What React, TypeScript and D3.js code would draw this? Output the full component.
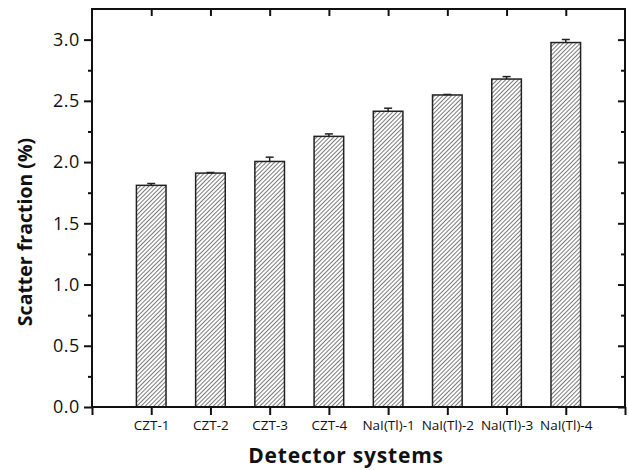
import { useEffect, useRef } from 'react'
import * as d3 from 'd3'

const categories = ['CZT-1', 'CZT-2', 'CZT-3', 'CZT-4', 'NaI(Tl)-1', 'NaI(Tl)-2', 'NaI(Tl)-3', 'NaI(Tl)-4']
const scatterFraction = [1.81, 1.91, 2.005, 2.21, 2.415, 2.548, 2.678, 2.976]
const errors = [0.015, 0.005, 0.035, 0.02, 0.025, 0.004, 0.02, 0.025]
const yTicks = [0, 0.5, 1.0, 1.5, 2.0, 2.5, 3.0]

export default function App() {
  const svgRef = useRef<SVGSVGElement>(null)
  const width = 629
  const height = 470

  useEffect(() => {
    if (!svgRef.current) return
    const svg = d3.select(svgRef.current)
    svg.selectAll('*').remove()

    const margin = { top: 9, right: 4, bottom: 63, left: 92 }
    const innerW = width - margin.left - margin.right
    const innerH = height - margin.top - margin.bottom
    const font = '"Open Sans", "Noto Sans", sans-serif'

    const x = d3.scaleLinear().domain([0, categories.length + 1]).range([0, innerW])
    const y = d3.scaleLinear().domain([0, 3.25]).range([innerH, 0])
    const step = x(1) - x(0)
    const barW = step * 0.5

    const defs = svg.append('defs')
    const pat = defs.append('pattern')
      .attr('id', 'hatch')
      .attr('patternUnits', 'userSpaceOnUse')
      .attr('width', 3)
      .attr('height', 3)
      .attr('patternTransform', 'rotate(45)')
    pat.append('rect').attr('width', 3).attr('height', 3).attr('fill', '#fff')
    pat.append('line')
      .attr('x1', 0).attr('y1', 0).attr('x2', 0).attr('y2', 3)
      .attr('stroke', '#333').attr('stroke-width', 1.3)

    const g = svg.append('g').attr('transform', `translate(${margin.left},${margin.top})`)

    // bars
    g.selectAll('rect.bar')
      .data(scatterFraction)
      .enter()
      .append('rect')
      .attr('class', 'bar')
      .attr('x', (_, i) => x(i + 1) - barW / 2)
      .attr('y', d => y(d))
      .attr('width', barW)
      .attr('height', d => innerH - y(d))
      .attr('fill', 'url(#hatch)')
      .attr('stroke', '#222')
      .attr('stroke-width', 1.5)

    // error bars (upper half only)
    const eg = g.selectAll('g.err').data(scatterFraction).enter().append('g')
    eg.append('line')
      .attr('x1', (_, i) => x(i + 1)).attr('x2', (_, i) => x(i + 1))
      .attr('y1', d => y(d)).attr('y2', (d, i) => y(d + errors[i]))
      .attr('stroke', '#222').attr('stroke-width', 1.5)
    eg.append('line')
      .attr('x1', (_, i) => x(i + 1) - 4).attr('x2', (_, i) => x(i + 1) + 4)
      .attr('y1', (d, i) => y(d + errors[i])).attr('y2', (d, i) => y(d + errors[i]))
      .attr('stroke', '#222').attr('stroke-width', 1.5)

    const minorTicks = d3.range(0.25, 3.25, 0.5)
    const catTicks = d3.range(1, categories.length + 1)

    // left axis
    const left = g.append('g')
      .call(d3.axisLeft(y).tickValues(yTicks).tickFormat(d3.format('.1f')).tickSize(8).tickPadding(4))
    left.select('.domain').remove()
    left.selectAll('line').attr('stroke', '#111').attr('stroke-width', 2)
    left.selectAll('text').attr('font-size', 18).attr('letter-spacing', 0.6).attr('font-family', font).attr('fill', '#111')
    g.append('g')
      .call(d3.axisLeft(y).tickValues(minorTicks).tickFormat(() => '').tickSize(4))
      .call(a => a.select('.domain').remove())
      .selectAll('line').attr('stroke', '#111').attr('stroke-width', 2)

    // right axis (inward ticks)
    g.append('g')
      .attr('transform', `translate(${innerW},0)`)
      .call(d3.axisLeft(y).tickValues(yTicks).tickFormat(() => '').tickSize(7))
      .call(a => a.select('.domain').remove())
      .selectAll('line').attr('stroke', '#111').attr('stroke-width', 2)
    g.append('g')
      .attr('transform', `translate(${innerW},0)`)
      .call(d3.axisLeft(y).tickValues(minorTicks).tickFormat(() => '').tickSize(4))
      .call(a => a.select('.domain').remove())
      .selectAll('line').attr('stroke', '#111').attr('stroke-width', 2)

    // bottom axis
    const bottom = g.append('g')
      .attr('transform', `translate(0,${innerH})`)
      .call(d3.axisBottom(x).tickValues(catTicks).tickFormat((_, i) => categories[i]).tickSize(8).tickPadding(5))
    bottom.select('.domain').remove()
    bottom.selectAll('line').attr('stroke', '#111').attr('stroke-width', 2)
    bottom.selectAll('text').attr('font-size', 13.5).attr('font-family', font).attr('fill', '#111')
    g.append('g')
      .attr('transform', `translate(0,${innerH})`)
      .call(d3.axisBottom(x).tickValues([0, categories.length + 1]).tickFormat(() => '').tickSize(8))
      .call(a => a.select('.domain').remove())
      .selectAll('line').attr('stroke', '#111').attr('stroke-width', 2)

    // top axis (inward ticks)
    g.append('g')
      .call(d3.axisBottom(x).tickValues(catTicks).tickFormat(() => '').tickSize(7))
      .call(a => a.select('.domain').remove())
      .selectAll('line').attr('stroke', '#111').attr('stroke-width', 2)

    // frame
    g.append('rect')
      .attr('width', innerW).attr('height', innerH)
      .attr('fill', 'none').attr('stroke', '#111').attr('stroke-width', 2)

    // axis titles
    svg.append('text')
      .attr('transform', `translate(32,${margin.top + innerH / 2 + 24}) rotate(-90)`)
      .attr('text-anchor', 'middle')
      .attr('font-family', font)
      .attr('font-weight', 'bold')
      .attr('font-size', 19.5)
      .attr('fill', '#111')
      .text('Scatter fraction (%)')

    svg.append('text')
      .attr('x', 346)
      .attr('y', 463)
      .attr('text-anchor', 'middle')
      .attr('font-family', font)
      .attr('font-weight', 'bold')
      .attr('font-size', 21)
      .attr('letter-spacing', 0.8)
      .attr('fill', '#111')
      .text('Detector systems')
  }, [])

  return (
    <svg
      ref={svgRef}
      width={width}
      height={height}
      style={{ position: 'absolute', left: 0, top: 0, background: '#fff' }}
    />
  )
}
